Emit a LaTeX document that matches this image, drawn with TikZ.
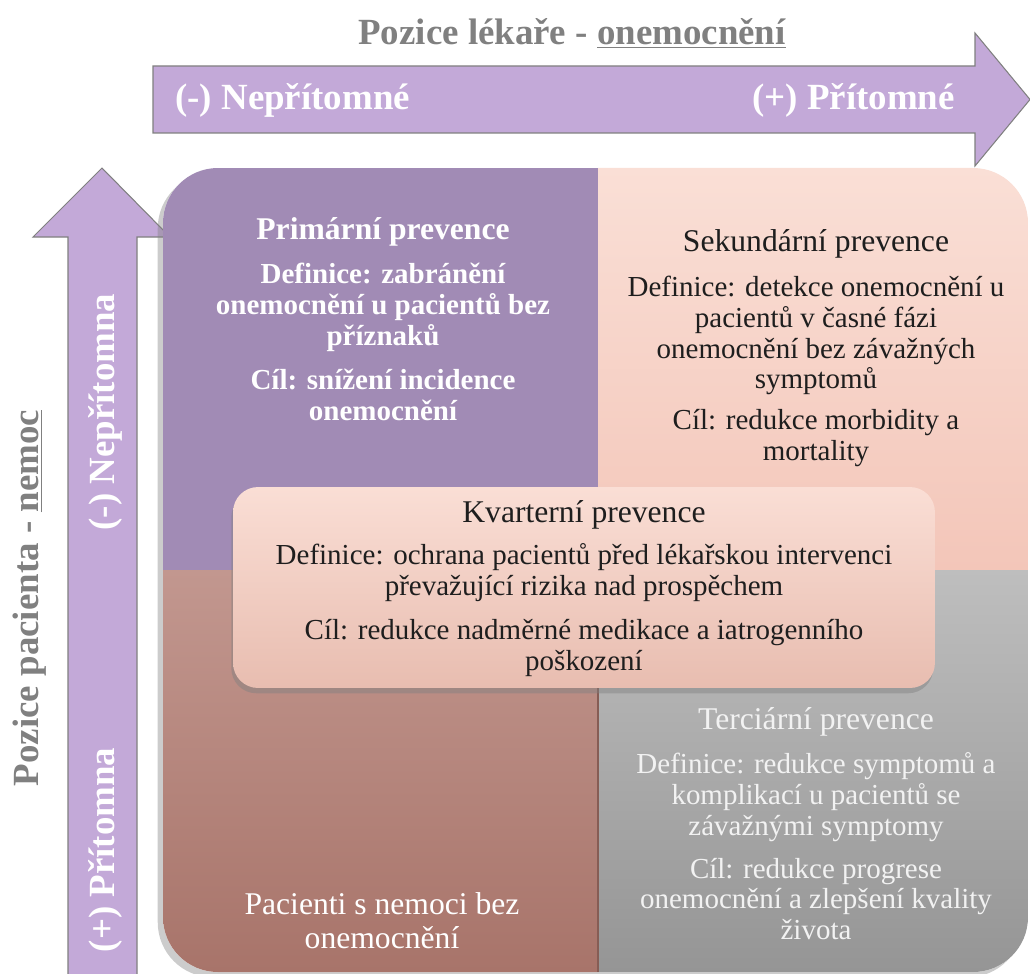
\documentclass[tikz,border=0pt]{standalone}
\usepackage{fontspec}
\setmainfont{Liberation Serif}
\usetikzlibrary{shadows, positioning}

\definecolor{axisfill}{HTML}{C3A9D8}
\definecolor{primfill}{HTML}{A18BB5}
\definecolor{sektop}{HTML}{FADFD6}
\definecolor{sekbot}{HTML}{F3C6B9}
\definecolor{pactop}{HTML}{C2978F}
\definecolor{pacbot}{HTML}{A8746A}
\definecolor{tertop}{HTML}{BEBEBE}
\definecolor{terbot}{HTML}{959595}
\definecolor{kvtop}{HTML}{FADED5}
\definecolor{kvbot}{HTML}{E8BDB0}
\definecolor{darktext}{HTML}{1E1E1E}

\begin{document}
\begin{tikzpicture}[x=0.02cm, y=-0.02cm,
        axisarrow/.style={fill=axisfill, draw=gray, line width=0.6pt},
        axistitle/.style={font=\fontsize{21}{24}\selectfont\bfseries,
                          text=gray, inner sep=0pt},
        axislabel/.style={font=\fontsize{21}{24}\selectfont\bfseries,
                          text=white, inner sep=0pt},
        qtitle/.style={font=\fontsize{18}{20}\selectfont, text=darktext,
                       align=center, inner sep=0pt},
        qtext/.style={font=\fontsize{16.5}{17.6}\selectfont, text=darktext,
                      align=center, inner sep=0pt},
        qboldtitle/.style={font=\fontsize{18}{20}\selectfont\bfseries,
                           text=white, align=center, inner sep=0pt},
        qbold/.style={font=\fontsize{16.5}{17.6}\selectfont\bfseries,
                      text=white, align=center, inner sep=0pt},
        centerbox/.style={rounded corners=0.5cm, top color=kvtop, bottom color=kvbot,
                          minimum width=14.04cm, minimum height=4.02cm,
                          drop shadow={shadow xshift=-1pt, shadow yshift=-3pt,
                                       opacity=0.45}}
    ]
    \useasboundingbox (0,0) rectangle (1030,973);

    % axes
    \draw[axisarrow] (153,66) -- (975,66) -- (975,33) -- (1030,99.5)
        -- (975,166) -- (975,133) -- (153,133) -- cycle;
    \draw[axisarrow] (68,975) -- (68,237) -- (33,237) -- (102,168)
        -- (170,237) -- (137,237) -- (137,975);

    \node[axistitle] (docTitle) at (572,33) {Pozice lékaře - \underline{onemocnění}};
    \node[axislabel, anchor=west] (docNeg) at (175,100) {(-) Nepřítomné};
    \node[axislabel, anchor=east] (docPos) at (955,100) {(+) Přítomné};

    \node[axistitle, rotate=90] (patTitle) at (30,598) {Pozice pacienta - \underline{nemoc}};
    \node[axislabel, rotate=90] (patNeg) at (105,412) {(-) Nepřítomna};
    \node[axislabel, rotate=90] (patPos) at (105,850) {(+) Přítomna};

    % quadrants
    \fill[white, rounded corners=1.1cm,
          drop shadow={shadow xshift=-3pt, shadow yshift=-3pt, opacity=0.4}]
        (163,168) rectangle (1028,972);
    \begin{scope}
        \clip[rounded corners=1.1cm] (163,168) rectangle (1028,972);
        \fill[primfill] (163,168) rectangle (598,570);
        \shade[top color=sektop, bottom color=sekbot] (598,168) rectangle (1028,570);
        \shade[top color=pactop, bottom color=pacbot] (163,570) rectangle (598,972);
        \shade[top color=tertop, bottom color=terbot] (598,570) rectangle (1028,972);
        \draw[pacbot!80!black, line width=0.8pt] (598,570) -- (598,972);
    \end{scope}

    \node[qboldtitle] (primTitle) at (383,232) {Primární prevence};
    \node[qbold] (primDef) at (383,307) {Definice: zabránění\\onemocnění u pacientů bez\\příznaků};
    \node[qbold] (primGoal) at (383,395) {Cíl: snížení incidence\\onemocnění};

    \node[qtitle] (sekTitle) at (816,244) {Sekundární prevence};
    \node[qtext] (sekDef) at (816,335.5) {Definice: detekce onemocnění u\\pacientů v časné fázi\\onemocnění bez závažných\\symptomů};
    \node[qtext] (sekGoal) at (816,438) {Cíl: redukce morbidity a\\mortality};

    \node[qtitle, text=white!95!black] (terTitle) at (816,722) {Terciární prevence};
    \node[qtext, text=white!95!black] (terDef) at (816,797) {Definice: redukce symptomů a\\komplikací u pacientů se\\závažnými symptomy};
    \node[qtext, text=white!95!black] (terGoal) at (816,899) {Cíl: redukce progrese\\onemocnění a zlepšení kvality\\života};

    \node[qtitle, font=\fontsize{18}{19.2}\selectfont, text=white] (pacText) at (382,921) {Pacienti s nemoci bez\\onemocnění};

    % kvarterni prevence
    \node[centerbox] (kvBox) at (584,587.5) {};
    \node[qtitle] (kvTitle) at (584,515) {Kvarterní prevence};
    \node[qtext] (kvDef) at (584,573) {Definice: ochrana pacientů před lékařskou intervenci\\převažující rizika nad prospěchem};
    \node[qtext] (kvGoal) at (584,648) {Cíl: redukce nadměrné medikace a iatrogenního\\poškození};
\end{tikzpicture}
\end{document}
